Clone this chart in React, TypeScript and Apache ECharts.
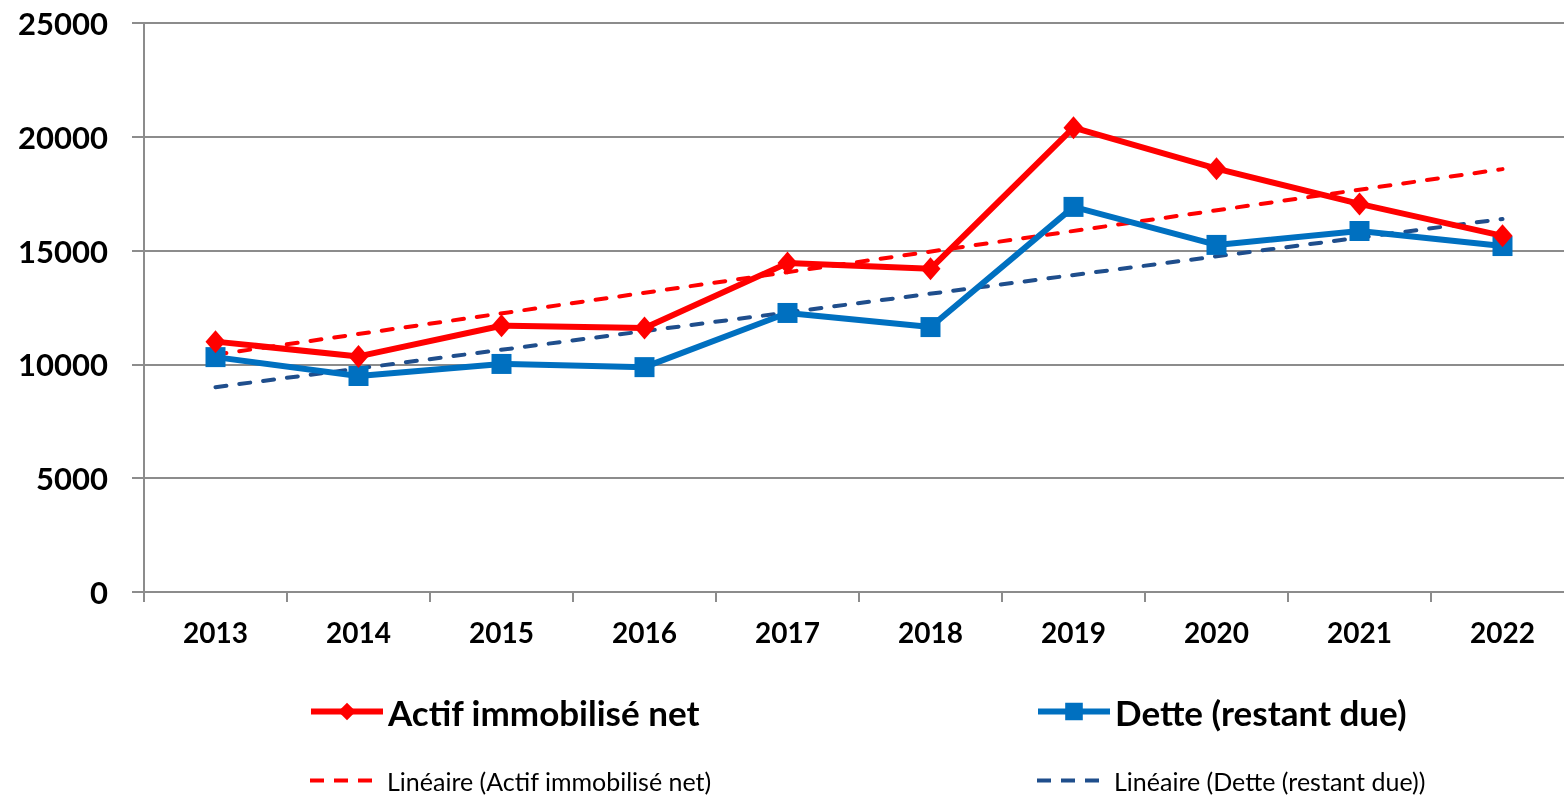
import React, { useEffect, useRef } from "react";
import * as echarts from "echarts";

const years = ["2013", "2014", "2015", "2016", "2017", "2018", "2019", "2020", "2021", "2022"];
const actif = [11000, 10350, 11700, 11600, 14450, 14200, 20400, 18600, 17050, 15650];
const dette = [10320, 9490, 10020, 9880, 12260, 11640, 16920, 15250, 15860, 15200];
const trendActif = [10430, null, null, null, null, null, null, null, null, 18580];
const trendDette = [9000, null, null, null, null, null, null, null, null, 16390];
const yTicks = [0, 5000, 10000, 15000, 20000, 25000];

const nameActif = "Actif immobilisé net";
const nameDette = "Dette (restant due)";
const nameTrendActif = "Linéaire (Actif immobilisé net)";
const nameTrendDette = "Linéaire (Dette (restant due))";

const FONT = "Lato";
const RED = "#FF0000";
const BLUE = "#0070C0";
const NAVY = "#1F4E8C";
const GRID = "#8C8C8C";
const DASH = [11, 13];
const LEGEND_DASH = [14, 10];

export default function App() {
  const ref = useRef<HTMLDivElement>(null);
  useEffect(() => {
    if (!ref.current) return;
    const chart = echarts.init(ref.current, null, { renderer: "svg" });
    const mkLegend = (name: string, left: number, top: number, size: number, bold: boolean, width: number, dashed: boolean, itemHeight: number) => ({
      data: [name],
      left,
      top,
      padding: 0,
      itemWidth: 72,
      itemHeight,
      selectedMode: false,
      lineStyle: { width, type: dashed ? LEGEND_DASH : "solid", cap: "butt" },
      itemStyle: dashed ? { opacity: 0 } : {},
      textStyle: { fontFamily: FONT, fontSize: size, fontWeight: bold ? "bold" : "normal", color: "#000" },
    });
    chart.setOption({
      animation: false,
      textStyle: { fontFamily: FONT },
      grid: { left: 144, top: 23, width: 1430, height: 569, containLabel: false },
      legend: [
        mkLegend(nameActif, 308, 694, 35, true, 6, false, 22),
        mkLegend(nameDette, 1035, 694, 35, true, 6, false, 22),
        mkLegend(nameTrendActif, 308, 768, 25, false, 4, true, 12),
        mkLegend(nameTrendDette, 1035, 768, 25, false, 4, true, 12),
      ],
      xAxis: {
        type: "category",
        data: years,
        boundaryGap: true,
        axisLine: { lineStyle: { color: GRID, width: 2 } },
        axisTick: { show: true, length: 10, lineStyle: { color: GRID, width: 2 } },
        axisLabel: { fontFamily: FONT, fontSize: 28, fontWeight: "bold", color: "#000", margin: 26 },
      },
      yAxis: {
        type: "value",
        min: yTicks[0],
        max: yTicks[yTicks.length - 1],
        interval: 5000,
        axisLine: { show: true, lineStyle: { color: GRID, width: 2 } },
        axisTick: { show: true, length: 12, lineStyle: { color: GRID, width: 2 } },
        splitLine: { lineStyle: { color: GRID, width: 2 } },
        axisLabel: {
          fontFamily: FONT,
          fontSize: 31,
          fontWeight: "bold",
          color: "#000",
          margin: 36,
          formatter: (v: number) => String(v),
        },
      },
      series: [
        {
          name: nameTrendActif,
          type: "line",
          data: trendActif,
          connectNulls: true,
          showSymbol: false,
          symbol: "none",
          lineStyle: { color: RED, width: 4, type: DASH, cap: "round" },
          itemStyle: { color: RED },
          z: 2,
        },
        {
          name: nameTrendDette,
          type: "line",
          data: trendDette,
          connectNulls: true,
          showSymbol: false,
          symbol: "none",
          lineStyle: { color: NAVY, width: 4, type: DASH, cap: "round" },
          itemStyle: { color: NAVY },
          z: 2,
        },
        {
          name: nameDette,
          type: "line",
          data: dette,
          symbol: "rect",
          symbolSize: 20,
          lineStyle: { color: BLUE, width: 6 },
          itemStyle: { color: BLUE },
          z: 3,
        },
        {
          name: nameActif,
          type: "line",
          data: actif,
          symbol: "diamond",
          symbolSize: [20, 23],
          lineStyle: { color: RED, width: 6 },
          itemStyle: { color: RED },
          z: 3,
        },
      ],
    });
    return () => chart.dispose();
  }, []);
  return (
    <div style={{ position: "fixed", left: 0, top: 0, width: 1564, height: 797, overflow: "hidden" }}>
      <div ref={ref} style={{ width: 1580, height: 797 }} />
    </div>
  );
}
